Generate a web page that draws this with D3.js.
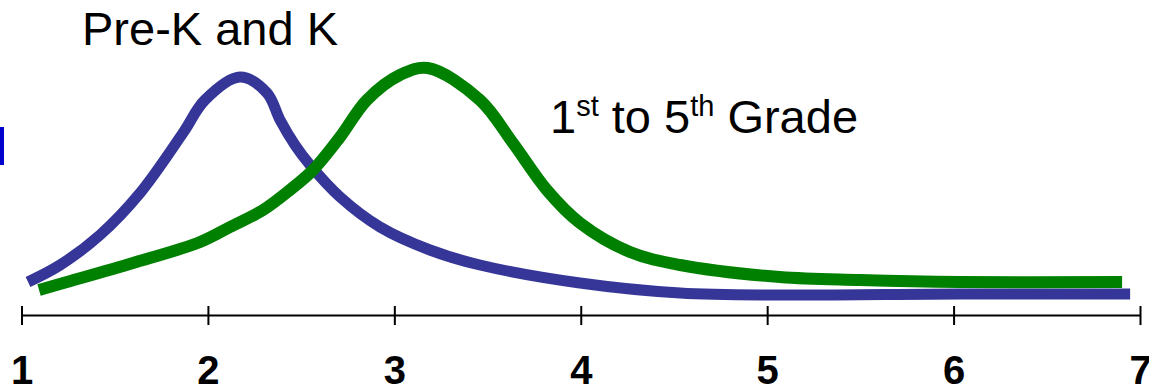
<!DOCTYPE html>
<html>
<head>
<meta charset="utf-8">
<script src="https://cdn.jsdelivr.net/npm/d3@7"></script>
<style>
  body { margin: 0; background: #fff; }
  svg { display: block; }
</style>
</head>
<body>
<div class="chart"></div>
<script>
// values: x = grade scale, y = relative height
const ticks = [1, 2, 3, 4, 5, 6, 7];

const preK = [
  [1.035, 0.132], [1.207, 0.200], [1.421, 0.320], [1.636, 0.488],
  [1.866, 0.728], [1.984, 0.860], [2.172, 0.952], [2.317, 0.888],
  [2.387, 0.780], [2.467, 0.680], [2.548, 0.600], [2.709, 0.472],
  [2.923, 0.352], [3.191, 0.260], [3.459, 0.200], [3.996, 0.128],
  [4.533, 0.088], [5.069, 0.080], [6.035, 0.084], [6.947, 0.084]
];

const grade1to5 = [
  [1.094, 0.100], [1.244, 0.132], [1.598, 0.208], [1.958, 0.292],
  [2.119, 0.352], [2.296, 0.420], [2.440, 0.500], [2.564, 0.580],
  [2.709, 0.712], [2.853, 0.860], [3.030, 0.960], [3.180, 0.988],
  [3.459, 0.860], [3.636, 0.688], [3.818, 0.500], [3.996, 0.368],
  [4.264, 0.252], [4.533, 0.200], [5.069, 0.152], [5.498, 0.140],
  [6.035, 0.132], [6.904, 0.132]
];

const width = 1149, height = 386;
const svg = d3.select('div.chart').append('svg')
    .attr('width', width)
    .attr('height', height);

const x = d3.scaleLinear().domain([1, 7]).range([21.5, 1140]);
const y = d3.scaleLinear().domain([0, 1]).range([315, 65]);

// small blue mark at the left edge
svg.append('rect')
    .attr('x', 0).attr('y', 127)
    .attr('width', 4).attr('height', 38)
    .attr('fill', '#0000cc');

// axis
const axis = d3.axisBottom(x).tickValues(ticks).tickSize(0).tickFormat(d3.format('d'));
const gx = svg.append('g').attr('transform', `translate(0,${y(0)})`).call(axis);
gx.select('.domain').attr('stroke', '#000').attr('stroke-width', 2);
gx.selectAll('.tick text')
    .attr('y', 69)
    .attr('dy', 0)
    .attr('font-family', 'Liberation Sans, Arial, sans-serif')
    .attr('font-weight', 'bold')
    .attr('font-size', 40)
    .attr('fill', '#000');
gx.selectAll('.tick').append('line')
    .attr('y1', -9).attr('y2', 10)
    .attr('stroke', '#000').attr('stroke-width', 2);

const line = d3.line()
    .x(d => x(d[0]))
    .y(d => y(d[1]))
    .curve(d3.curveCatmullRom.alpha(0.5));

svg.append('path')
    .datum(preK)
    .attr('d', line)
    .attr('fill', 'none')
    .attr('stroke', '#363699')
    .attr('stroke-width', 11);

svg.append('path')
    .datum(grade1to5)
    .attr('d', line)
    .attr('fill', 'none')
    .attr('stroke', '#008000')
    .attr('stroke-width', 12);

// labels
const font = 'Liberation Sans, Arial, sans-serif';
svg.append('text')
    .attr('x', 82).attr('y', 45)
    .attr('font-family', font)
    .attr('font-size', 47)
    .attr('fill', '#000')
    .text('Pre-K and K');

const lab = svg.append('text')
    .attr('x', 550).attr('y', 133)
    .attr('font-family', font)
    .attr('font-size', 47)
    .attr('fill', '#000');
lab.append('tspan').text('1');
lab.append('tspan').attr('font-size', 29).attr('dy', -17).text('st');
lab.append('tspan').attr('dy', 17).text(' to 5');
lab.append('tspan').attr('font-size', 29).attr('dy', -17).text('th');
lab.append('tspan').attr('dy', 17).text(' Grade');
</script>
</body>
</html>
